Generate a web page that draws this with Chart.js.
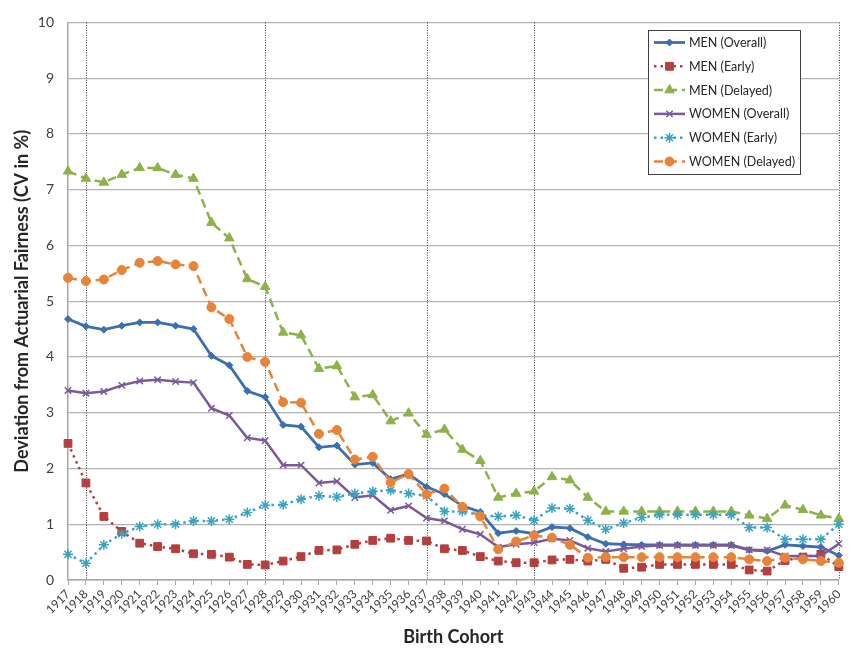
<!DOCTYPE html>
<html lang="en">
<head>
<meta charset="UTF-8">
<title>Deviation from Actuarial Fairness by Birth Cohort</title>
<style>
body { margin:0; padding:0; background:#fff; }
#wrap { width:851px; height:652px; position:relative; }
</style>
</head>
<body>
<div id="wrap"><canvas id="chart"></canvas></div>

<script src="https://cdn.jsdelivr.net/npm/chart.js"></script>
<script>
// birth cohorts (x categories)
const years = ['1917','1918','1919','1920','1921','1922','1923','1924','1925','1926','1927','1928',
  '1929','1930','1931','1932','1933','1934','1935','1936','1937','1938','1939','1940',
  '1941','1942','1943','1944','1945','1946','1947','1948','1949','1950',
  '1951','1952','1953','1954','1955','1956','1957','1958','1959','1960'];

// cohorts marked with a dotted vertical line
const markedCohorts = ['1918','1928','1937','1943','1960'];

// CV in %
const menOverall = [4.68,4.55,4.49,4.56,4.62,4.62,4.56,4.50,4.02,3.85,3.39,3.28,
  2.78,2.75,2.38,2.41,2.07,2.10,1.81,1.90,1.67,1.54,1.33,1.22,
  0.84,0.88,0.83,0.95,0.93,0.77,0.65,0.64,0.63,0.63,
  0.63,0.63,0.63,0.63,0.54,0.52,0.63,0.61,0.59,0.44];
const menEarly = [2.45,1.74,1.14,0.87,0.66,0.60,0.56,0.47,0.46,0.41,0.28,0.27,
  0.34,0.42,0.53,0.54,0.64,0.71,0.75,0.71,0.70,0.56,0.53,0.42,
  0.34,0.31,0.31,0.36,0.37,0.34,0.37,0.21,0.23,0.28,
  0.28,0.28,0.28,0.28,0.18,0.16,0.35,0.41,0.46,0.24];
const menDelayed = [7.33,7.20,7.13,7.27,7.39,7.39,7.27,7.20,6.41,6.13,5.40,5.26,
  4.44,4.39,3.79,3.84,3.28,3.32,2.85,2.99,2.61,2.70,2.34,2.14,
  1.48,1.55,1.59,1.85,1.79,1.48,1.23,1.23,1.23,1.23,
  1.23,1.23,1.23,1.23,1.16,1.10,1.34,1.26,1.16,1.10];
const womenOverall = [3.40,3.35,3.38,3.49,3.57,3.59,3.56,3.54,3.08,2.95,2.55,2.50,
  2.06,2.06,1.74,1.77,1.48,1.52,1.25,1.33,1.11,1.06,0.91,0.82,
  0.59,0.64,0.67,0.74,0.71,0.57,0.51,0.56,0.60,0.62,
  0.62,0.62,0.62,0.62,0.54,0.54,0.43,0.43,0.43,0.65];
const womenEarly = [0.46,0.30,0.63,0.83,0.96,1.00,1.00,1.06,1.06,1.09,1.21,1.34,
  1.35,1.45,1.51,1.49,1.55,1.59,1.61,1.55,1.51,1.23,1.23,1.16,
  1.14,1.16,1.07,1.29,1.28,1.07,0.91,1.02,1.12,1.17,
  1.17,1.17,1.17,1.17,0.94,0.94,0.73,0.73,0.73,1.00];
const womenDelayed = [5.42,5.36,5.39,5.56,5.69,5.72,5.66,5.63,4.89,4.68,4.00,3.91,
  3.19,3.18,2.62,2.69,2.16,2.21,1.75,1.90,1.54,1.64,1.31,1.14,
  0.55,0.69,0.80,0.76,0.63,0.40,0.41,0.41,0.41,0.41,
  0.41,0.41,0.41,0.41,0.37,0.34,0.40,0.37,0.34,0.31];

const yTicks = [0,1,2,3,4,5,6,7,8,9,10];

Chart.defaults.font.family = 'Lato, "Open Sans", sans-serif';
Chart.defaults.color = '#404040';

function series(label, data, color, opts, idx) {
  return Object.assign({
    label: label,
    data: data,
    borderColor: color,
    backgroundColor: color,
    pointBackgroundColor: color,
    pointBorderColor: color,
    borderWidth: 2.5,
    pointBorderWidth: 1,
    tension: 0,
    fill: false,
    clip: false,
    order: 6 - idx   // later series on top, like the original
  }, opts);
}

// dotted vertical lines at the marked cohorts
const cohortLines = {
  id: 'cohortLines',
  beforeDatasetsDraw(chart) {
    const {ctx, chartArea, scales: {x}} = chart;
    ctx.save();
    ctx.strokeStyle = '#3a3a3a';
    ctx.lineWidth = 1;
    ctx.setLineDash([1, 1.5]);
    markedCohorts.forEach(c => {
      const px = Math.round(x.getPixelForValue(years.indexOf(c))) + 0.5;
      ctx.beginPath();
      ctx.moveTo(px, chartArea.top);
      ctx.lineTo(px, chartArea.bottom);
      ctx.stroke();
    });
    ctx.restore();
  }
};

// boxed legend in the upper right of the plot
const legendBox = {
  id: 'legendBox',
  afterDraw(chart) {
    const ctx = chart.ctx;
    const x0 = 648.5, y0 = 30.5, w = 152, h = 144;
    ctx.save();
    ctx.fillStyle = '#fff';
    ctx.fillRect(x0, y0, w, h);
    ctx.strokeStyle = '#404040';
    ctx.lineWidth = 1;
    ctx.strokeRect(x0, y0, w, h);
    chart.data.datasets.forEach((ds, i) => {
      const y = 42.5 + i * 23.8;
      ctx.beginPath();
      ctx.setLineDash(ds.borderDash || []);
      ctx.strokeStyle = ds.borderColor;
      ctx.lineWidth = ds.borderWidth;
      ctx.moveTo(654, y);
      ctx.lineTo(685, y);
      ctx.stroke();
      ctx.setLineDash([]);
      ctx.fillStyle = ds.pointBackgroundColor;
      ctx.strokeStyle = ds.pointBorderColor;
      ctx.lineWidth = ds.pointBorderWidth;
      Chart.helpers.drawPoint(ctx, {pointStyle: ds.pointStyle, radius: ds.pointRadius, borderWidth: ds.pointBorderWidth, rotation: 0}, 669.5, y);
      ctx.fillStyle = '#262626';
      ctx.font = '12.5px Lato, "Open Sans", sans-serif';
      ctx.textBaseline = 'middle';
      ctx.fillText(ds.label, 689, y + 0.5);
    });
    ctx.restore();
  }
};

new Chart(document.getElementById('chart'), {
  type: 'line',
  data: {
    labels: years,
    datasets: [
      series('MEN (Overall)', menOverall, '#3a70b0', {borderWidth: 2.8, pointStyle: 'rectRot', pointRadius: 3.5}, 0),
      series('MEN (Early)', menEarly, '#b43f3f', {borderDash: [2.5, 4], pointStyle: 'rect', pointRadius: 5.5}, 1),
      series('MEN (Delayed)', menDelayed, '#8db24a', {borderDash: [9, 5], pointStyle: 'triangle', pointRadius: 5.5}, 2),
      series('WOMEN (Overall)', womenOverall, '#7b5a9c', {pointStyle: 'crossRot', pointRadius: 4.5, pointBorderWidth: 1.5}, 3),
      series('WOMEN (Early)', womenEarly, '#3aa3c0', {borderDash: [2.5, 4], pointStyle: 'star', pointRadius: 5, pointBorderWidth: 1.5}, 4),
      series('WOMEN (Delayed)', womenDelayed, '#e8843a', {borderDash: [9, 5], pointStyle: 'circle', pointRadius: 4.5}, 5)
    ]
  },
  options: {
    responsive: true,
    maintainAspectRatio: false,
    animation: false,
    layout: { padding: { top: 15.5, right: 3, left: 0, bottom: 0 } },
    plugins: {
      legend: { display: false },
      tooltip: { enabled: false }
    },
    scales: {
      x: {
        grid: { drawOnChartArea: false, drawTicks: true, tickLength: 5, color: '#a6a6a6', tickColor: '#a6a6a6' },
        border: { color: '#a6a6a6', width: 1.5 },
        ticks: { autoSkip: false, maxRotation: 45, minRotation: 45, font: { size: 12 }, padding: 2 },
        title: { display: true, text: 'Birth Cohort', color: '#262626', font: { size: 18, weight: 'bold' }, padding: { top: 0, bottom: 4 } },
        afterFit(s) { s.height = 72; }
      },
      y: {
        min: 0,
        max: 10,
        afterBuildTicks(s) { s.ticks = yTicks.map(v => ({value: v})); },
        ticks: { font: { size: 14 }, padding: 14 },
        grid: { color: '#b3b3b3', lineWidth: 1.3, drawTicks: false },
        border: { color: '#a6a6a6', width: 1.5 },
        title: { display: true, text: 'Deviation from Actuarial Fairness (CV in %)', color: '#262626', font: { size: 18, weight: 'bold' }, padding: { top: 11, bottom: 0 } },
        afterFit(s) { s.width = 68; }
      }
    }
  },
  plugins: [cohortLines, legendBox]
});
</script>
</body>
</html>
